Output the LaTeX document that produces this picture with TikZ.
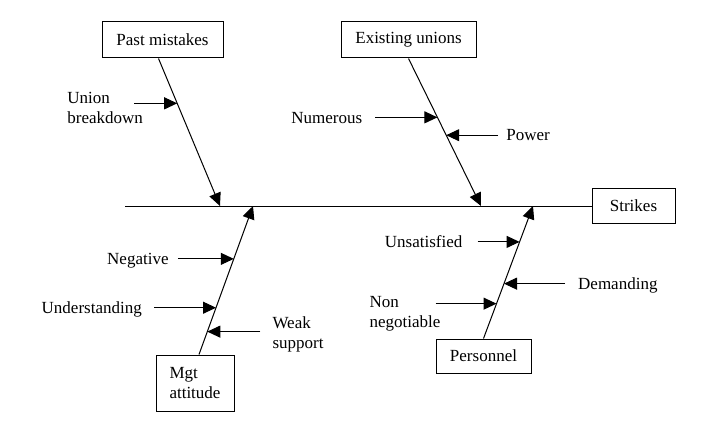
\documentclass[tikz,border=0pt]{standalone}
\usepackage{fontspec}
\setmainfont{Liberation Serif}
\usetikzlibrary{arrows.meta,calc,positioning}

\begin{document}
\begin{tikzpicture}[x=1pt, y=-1pt,
  every node/.style={font=\fontsize{17}{20}\selectfont},
  box/.style={draw, line width=1pt, minimum height=36pt, inner sep=0pt},
  lbl/.style={inner sep=0pt, text height=11.5pt, text depth=0pt},
  lbltwo/.style={inner sep=0pt, align=left},
  bone/.style={line width=1pt, -{Triangle[length=13pt, width=12pt]}},
  cause/.style={line width=1pt, -{Triangle[length=13pt, width=12pt]}}]
  \useasboundingbox (0,0) rectangle (709,441);
  % ---------------- boxes ----------------
  \node[box, minimum width=121pt] (past) at (162.5,40) {Past mistakes};
  \node[box, minimum width=135pt] (unions) at (408.5,40) {Existing unions};
  \node[box, minimum width=83pt, minimum height=35pt] (strikes) at (633.5,206) {Strikes};
  \node[box, minimum width=95pt, minimum height=34pt] (staff) at (483.5,356) {Personnel};
  \node[box, minimum width=78pt, minimum height=56pt, align=left] (mgt) at (195,383) {Mgt\\attitude};
  % ---------------- spine ----------------
  \coordinate (tail) at (125,206);
  \coordinate (t1) at (220,206);
  \coordinate (t2) at (481,206);
  \coordinate (t3) at (253,206);
  \coordinate (t4) at (533,206);
  \draw[line width=1pt] (tail) -- (strikes.west);
  % ---------------- bones ----------------
  \coordinate (s1) at ([xshift=-4pt]past.south);
  \coordinate (s2) at (unions.south);
  \coordinate (s3) at ([xshift=4pt]mgt.north);
  \coordinate (s4) at (staff.north);
  \draw[bone] (s1) -- (t1);
  \draw[bone] (s2) -- (t2);
  \draw[bone] (s3) -- (t3);
  \draw[bone] (s4) -- (t4);
  % ---------------- causes: past mistakes ----------------
  \coordinate (ub) at ($(s1)!0.304!(t1)$);
  \coordinate[left=43pt of ub] (ub0);
  \draw[cause] (ub0) -- (ub);
  \node[lbltwo, anchor=north east] (ubl) at ([xshift=9pt, yshift=11pt]ub0) {Union\\breakdown};
  % ---------------- causes: existing unions ----------------
  \coordinate (nu) at ($(s2)!0.399!(t2)$);
  \coordinate[left=62pt of nu] (nu0);
  \draw[cause] (nu0) -- (nu);
  \node[lbl, left=13pt of nu0] (nul) {Numerous};
  \coordinate (pw) at ($(s2)!0.52!(t2)$);
  \coordinate[right=52pt of pw] (pw0);
  \draw[cause] (pw0) -- (pw);
  \node[lbl, right=8pt of pw0] (pwl) {Power};
  % ---------------- causes: mgt attitude ----------------
  \coordinate (ng) at ($(s3)!0.644!(t3)$);
  \coordinate[left=56pt of ng] (ng0);
  \draw[cause] (ng0) -- (ng);
  \node[lbl, left=9pt of ng0] (ngl) {Negative};
  \coordinate (ud) at ($(s3)!0.315!(t3)$);
  \coordinate[left=62pt of ud] (ud0);
  \draw[cause] (ud0) -- (ud);
  \node[lbl, left=12pt of ud0] (udl) {Understanding};
  \coordinate (ws) at ($(s3)!0.154!(t3)$);
  \coordinate[right=53pt of ws] (ws0);
  \draw[cause] (ws0) -- (ws);
  \node[lbltwo, anchor=north west] (wsl) at ([xshift=12pt, yshift=15pt]ws0) {Weak\\support};
  % ---------------- causes: personnel ----------------
  \coordinate (us) at ($(s4)!0.729!(t4)$);
  \coordinate[left=42pt of us] (us0);
  \draw[cause] (us0) -- (us);
  \node[lbl, left=15pt of us0] (usl) {Unsatisfied};
  \coordinate (dm) at ($(s4)!0.414!(t4)$);
  \coordinate[right=61pt of dm] (dm0);
  \draw[cause] (dm0) -- (dm);
  \node[lbl, right=13pt of dm0] (dml) {Demanding};
  \coordinate (nn) at ($(s4)!0.263!(t4)$);
  \coordinate[left=61pt of nn] (nn0);
  \draw[cause] (nn0) -- (nn);
  \node[lbltwo, anchor=north east] (nnl) at ([xshift=5pt, yshift=7pt]nn0) {Non\\negotiable};
\end{tikzpicture}
\end{document}
